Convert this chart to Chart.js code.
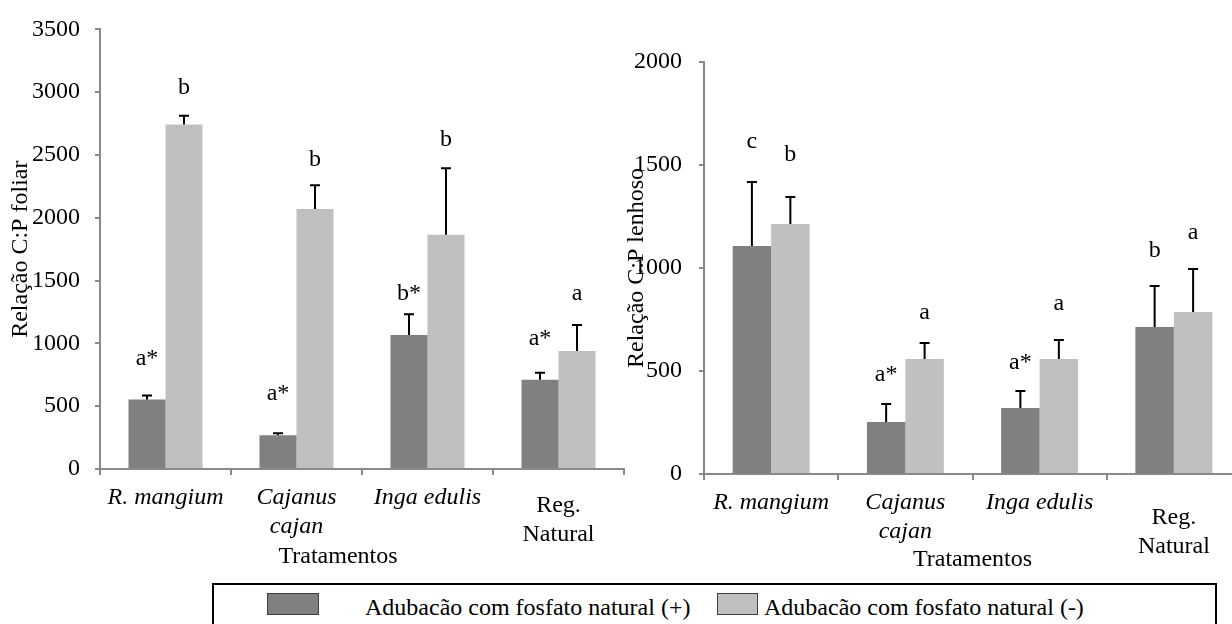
<!DOCTYPE html>
<html>
<head>
<meta charset="utf-8">
<script src="https://cdn.jsdelivr.net/npm/chart.js@4.4.0/dist/chart.umd.min.js"></script>
<style>
  body { margin:0; width:1232px; height:624px; overflow:hidden; background:#fff; position:relative;
         font-family:'Liberation Serif','Times New Roman',serif; }
  .box { position:absolute; top:0; width:640px; height:580px; }
  #leftBox { left:0; }
  #rightBox { left:612px; }
  #legend { position:absolute; left:212px; top:583px; width:1005px; height:60px;
            border:2px solid #000; box-sizing:border-box; }
  #legend .sw { position:absolute; top:8px; height:22px; border:1px solid #404040; box-sizing:border-box; }
  #legend .lt { position:absolute; top:9px; font-size:24px; line-height:26px; white-space:nowrap; color:#000; }
</style>
</head>
<body>
<div class="box" id="leftBox"><canvas id="foliarChart"></canvas></div>
<div class="box" id="rightBox"><canvas id="lenhosoChart"></canvas></div>
<div id="legend"></div>

<script>
// categorias e séries
const categories = [['R. mangium'], ['Cajanus', 'cajan'], ['Inga edulis'], ['Reg.', 'Natural']];
const italicCats = [true, true, true, false];
const seriesNames = ['Adubacão com fosfato natural (+)', 'Adubacão com fosfato natural (-)'];
const seriesColors = ['#808080', '#c0c0c0'];

// relação C:P foliar
const foliarPlus = [553, 269, 1067, 711];
const foliarPlusErr = [32, 15, 166, 55];
const foliarPlusLetters = ['a*', 'a*', 'b*', 'a*'];
const foliarPlusLetterAt = [877, 600, 1398, 1035];
const foliarMinus = [2742, 2070, 1865, 940];
const foliarMinusErr = [71, 190, 529, 206];
const foliarMinusLetters = ['b', 'b', 'b', 'a'];
const foliarMinusLetterAt = [3034, 2465, 2623, 1398];
const foliarTicks = [0, 500, 1000, 1500, 2000, 2500, 3000, 3500];

// relação C:P lenhoso
const lenhosoPlus = [1107, 252, 320, 714];
const lenhosoPlusErr = [310, 88, 83, 199];
const lenhosoPlusLetters = ['c', 'a*', 'a*', 'b'];
const lenhosoPlusLetterAt = [1612, 481, 539, 1083];
const lenhosoMinus = [1214, 558, 558, 786];
const lenhosoMinusErr = [131, 78, 92, 209];
const lenhosoMinusLetters = ['b', 'a', 'a', 'a'];
const lenhosoMinusLetterAt = [1549, 782, 825, 1170];
const lenhosoTicks = [0, 500, 1000, 1500, 2000];

const FONT = "'Liberation Serif', 'Times New Roman', serif";
Chart.defaults.font.family = FONT;
Chart.defaults.font.size = 24;
Chart.defaults.color = '#000';

// barras de erro (só para cima) + letras de significância
const errorBars = {
  id: 'errorBars',
  afterDatasetsDraw(chart) {
    const { ctx } = chart;
    const y = chart.scales.y;
    ctx.save();
    chart.data.datasets.forEach((ds, di) => {
      const meta = chart.getDatasetMeta(di);
      meta.data.forEach((bar, i) => {
        const top = y.getPixelForValue(ds.data[i] + ds.errors[i]);
        ctx.strokeStyle = '#000';
        ctx.lineWidth = 2;
        ctx.beginPath();
        ctx.moveTo(bar.x, bar.y);
        ctx.lineTo(bar.x, top);
        ctx.moveTo(bar.x - 5, top);
        ctx.lineTo(bar.x + 5, top);
        ctx.stroke();
        ctx.fillStyle = '#000';
        ctx.font = '24px ' + FONT;
        ctx.textAlign = 'center';
        ctx.textBaseline = 'middle';
        ctx.fillText(ds.letters[i], bar.x, y.getPixelForValue(ds.letterAt[i]));
      });
    });
    ctx.restore();
  }
};

// rótulos das categorias (Reg. Natural fica um pouco mais baixo, como no original)
const catLabels = {
  id: 'catLabels',
  afterDraw(chart, args, opts) {
    const { ctx } = chart;
    const x = chart.scales.x;
    ctx.save();
    ctx.fillStyle = '#000';
    ctx.textAlign = 'center';
    ctx.textBaseline = 'middle';
    categories.forEach((lines, i) => {
      ctx.font = (italicCats[i] ? 'italic ' : '') + '24px ' + FONT;
      const px = x.getPixelForTick(i);
      const y0 = x.top + opts.first + (italicCats[i] ? 0 : opts.shift);
      lines.forEach((t, k) => ctx.fillText(t, px, y0 + k * 28.5));
    });
    ctx.restore();
  }
};

function makeChart(id, cfg) {
  const ticks = cfg.ticks;
  return new Chart(document.getElementById(id), {
    type: 'bar',
    data: {
      labels: categories,
      datasets: [
        { label: seriesNames[0], data: cfg.plus, errors: cfg.plusErr,
          letters: cfg.plusLetters, letterAt: cfg.plusLetterAt,
          backgroundColor: seriesColors[0], borderWidth: 0,
          categoryPercentage: cfg.catPct, barPercentage: 1 },
        { label: seriesNames[1], data: cfg.minus, errors: cfg.minusErr,
          letters: cfg.minusLetters, letterAt: cfg.minusLetterAt,
          backgroundColor: seriesColors[1], borderWidth: 0,
          categoryPercentage: cfg.catPct, barPercentage: 1 }
      ]
    },
    options: {
      responsive: true,
      maintainAspectRatio: false,
      animation: false,
      layout: { padding: cfg.padding },
      plugins: {
        legend: { display: false },
        tooltip: { enabled: false },
        catLabels: { first: cfg.labelFirst, shift: cfg.labelShift }
      },
      scales: {
        x: {
          afterFit: s => { s.height = cfg.xHeight; },
          grid: { display: true, drawOnChartArea: false, tickLength: 6, color: '#898989', lineWidth: 2 },
          border: { color: '#898989', width: 2 },
          ticks: { display: false },
          title: { display: true, text: cfg.xTitle, padding: { top: 0, bottom: cfg.xTitlePad } }
        },
        y: {
          min: ticks[0],
          max: ticks[ticks.length - 1],
          afterFit: s => { s.width = cfg.yWidth; },
          afterBuildTicks: s => { s.ticks = ticks.map(v => ({ value: v })); },
          grid: { display: true, drawOnChartArea: false, tickLength: 5, color: '#898989', lineWidth: 2 },
          border: { color: '#898989', width: 2 },
          ticks: { padding: cfg.yTickPad, callback: v => String(v) },
          title: { display: true, text: cfg.yTitle, padding: { top: cfg.yTitlePad, bottom: 0 } }
        }
      }
    },
    plugins: [errorBars, catLabels]
  });
}

makeChart('foliarChart', {
  plus: foliarPlus, plusErr: foliarPlusErr, plusLetters: foliarPlusLetters, plusLetterAt: foliarPlusLetterAt,
  minus: foliarMinus, minusErr: foliarMinusErr, minusLetters: foliarMinusLetters, minusLetterAt: foliarMinusLetterAt,
  ticks: foliarTicks, yTitle: 'Relação C:P foliar',
  // no original o título do eixo x fica um pouco à esquerda do centro
  xTitle: 'Tratamentos' + '\u00a0'.repeat(8),
  catPct: 0.565, padding: { left: 0, top: 26, right: 16, bottom: 0 },
  xHeight: 111, yWidth: 100, yTickPad: 15, yTitlePad: 6, xTitlePad: 9,
  labelFirst: 29, labelShift: 8
});

makeChart('lenhosoChart', {
  plus: lenhosoPlus, plusErr: lenhosoPlusErr, plusLetters: lenhosoPlusLetters, plusLetterAt: lenhosoPlusLetterAt,
  minus: lenhosoMinus, minusErr: lenhosoMinusErr, minusLetters: lenhosoMinusLetters, minusLetterAt: lenhosoMinusLetterAt,
  ticks: lenhosoTicks, yTitle: 'Relação C:P lenhoso', xTitle: 'Tratamentos',
  catPct: 0.573, padding: { left: 0, top: 62, right: 11, bottom: 0 },
  xHeight: 106, yWidth: 92, yTickPad: 17, yTitlePad: 10, xTitlePad: 6,
  labelFirst: 29, labelShift: 15
});

// legenda comum às duas figuras
const legend = document.getElementById('legend');
const legendPos = [[53, 52, 151], [503, 41, 550]];
seriesNames.forEach((name, i) => {
  const sw = document.createElement('span');
  sw.className = 'sw';
  sw.style.left = legendPos[i][0] + 'px';
  sw.style.width = legendPos[i][1] + 'px';
  sw.style.background = seriesColors[i];
  legend.appendChild(sw);
  const t = document.createElement('span');
  t.className = 'lt';
  t.style.left = legendPos[i][2] + 'px';
  t.textContent = name;
  legend.appendChild(t);
});
</script>
</body>
</html>
